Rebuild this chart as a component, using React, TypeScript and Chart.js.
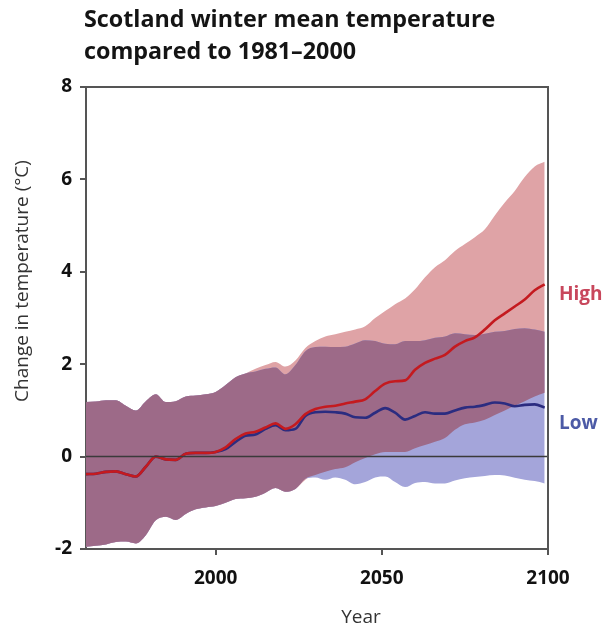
import React, { useEffect, useRef } from 'react';
import { Chart, registerables } from 'chart.js';

Chart.register(...registerables);

const years = [1961, 1964, 1967, 1970, 1973, 1976, 1979, 1982, 1985, 1988, 1991, 1994, 1997, 2000, 2003, 2006, 2009, 2012, 2015, 2018, 2021, 2024, 2027, 2030, 2033, 2036, 2039, 2042, 2045, 2048, 2051, 2054, 2057, 2060, 2063, 2066, 2069, 2072, 2075, 2078, 2081, 2084, 2087, 2090, 2093, 2096, 2099];

const highUpper = [1.18, 1.19, 1.22, 1.22, 1.1, 1.0, 1.2, 1.35, 1.18, 1.2, 1.3, 1.32, 1.35, 1.4, 1.55, 1.72, 1.8, 1.9, 1.98, 2.05, 1.95, 2.08, 2.35, 2.5, 2.6, 2.65, 2.7, 2.75, 2.82, 3.0, 3.15, 3.3, 3.42, 3.62, 3.88, 4.1, 4.25, 4.45, 4.6, 4.75, 4.92, 5.22, 5.5, 5.75, 6.05, 6.28, 6.38];
const highLower = [-1.95, -1.93, -1.9, -1.85, -1.84, -1.88, -1.7, -1.38, -1.3, -1.37, -1.24, -1.14, -1.1, -1.07, -1.0, -0.92, -0.9, -0.87, -0.78, -0.68, -0.76, -0.7, -0.5, -0.4, -0.33, -0.27, -0.23, -0.12, -0.03, 0.05, 0.1, 0.1, 0.1, 0.18, 0.25, 0.32, 0.4, 0.58, 0.7, 0.74, 0.8, 0.9, 1.0, 1.1, 1.2, 1.3, 1.38];
const highMean = [-0.38, -0.37, -0.33, -0.32, -0.38, -0.43, -0.22, 0.0, -0.06, -0.07, 0.06, 0.08, 0.08, 0.1, 0.2, 0.38, 0.5, 0.54, 0.63, 0.72, 0.6, 0.7, 0.92, 1.03, 1.08, 1.1, 1.15, 1.19, 1.24, 1.42, 1.58, 1.63, 1.65, 1.88, 2.03, 2.12, 2.2, 2.38, 2.5, 2.58, 2.75, 2.95, 3.1, 3.25, 3.4, 3.6, 3.73];

const lowUpper = [1.18, 1.19, 1.22, 1.22, 1.1, 1.0, 1.2, 1.35, 1.18, 1.2, 1.3, 1.32, 1.35, 1.4, 1.55, 1.72, 1.8, 1.84, 1.9, 1.93, 1.78, 1.98, 2.28, 2.37, 2.38, 2.37, 2.38, 2.45, 2.52, 2.5, 2.44, 2.43, 2.5, 2.5, 2.52, 2.57, 2.6, 2.67, 2.65, 2.63, 2.66, 2.7, 2.72, 2.76, 2.78, 2.75, 2.7];
const lowLower = [-1.95, -1.93, -1.9, -1.85, -1.84, -1.88, -1.7, -1.38, -1.3, -1.37, -1.24, -1.14, -1.1, -1.07, -1.0, -0.92, -0.9, -0.87, -0.78, -0.68, -0.76, -0.7, -0.48, -0.45, -0.5, -0.45, -0.5, -0.6, -0.55, -0.45, -0.43, -0.55, -0.66, -0.57, -0.55, -0.58, -0.58, -0.52, -0.47, -0.44, -0.42, -0.4, -0.41, -0.46, -0.5, -0.53, -0.58];
const lowMean = [-0.38, -0.37, -0.33, -0.32, -0.38, -0.43, -0.22, 0.0, -0.06, -0.07, 0.06, 0.08, 0.08, 0.1, 0.16, 0.32, 0.45, 0.48, 0.6, 0.68, 0.57, 0.6, 0.88, 0.96, 0.97, 0.96, 0.93, 0.85, 0.84, 0.95, 1.05, 0.95, 0.8, 0.88, 0.96, 0.93, 0.93, 1.0, 1.06, 1.08, 1.12, 1.17, 1.15, 1.09, 1.12, 1.13, 1.06];

const xTickValues = [2000, 2050, 2100];
const yTickValues = [-2, 0, 2, 4, 6, 8];

const titleLines = ['Scotland winter mean temperature', 'compared to 1981\u20132000'];
const yTitle = 'Change in temperature (\u00B0C)';
const xTitle = 'Year';
const highLabel = 'High';
const lowLabel = 'Low';

const FONT = '"Open Sans", "Noto Sans", sans-serif';

const COLORS = {
  pink: '#dfa3a6',
  blue: '#a4a5da',
  purple: '#9d6a88',
  red: '#c41a1f',
  navy: '#2b2c80',
  axis: '#555555',
  highText: '#c8475c',
  lowText: '#4c5aa6',
};

const pts = (arr: number[]) => years.map((x, i) => ({ x, y: arr[i] }));

export default function App() {
  const ref = useRef<HTMLCanvasElement | null>(null);

  useEffect(() => {
    const canvas = ref.current;
    if (!canvas) return;

    const overlapUpper = highUpper.map((v, i) => Math.min(v, lowUpper[i]));
    const overlapLower = highLower.map((v, i) => Math.max(v, lowLower[i]));

    const hidden = { borderWidth: 0, pointRadius: 0, fill: false as const };

    const decor = {
      id: 'decor',
      afterDatasetsDraw(chart: any) {
        const { ctx, chartArea, scales } = chart;
        const y0 = scales.y.getPixelForValue(0);
        ctx.save();
        ctx.strokeStyle = '#3a3a3a';
        ctx.lineWidth = 1.5;
        ctx.beginPath();
        ctx.moveTo(chartArea.left, y0);
        ctx.lineTo(chartArea.right, y0);
        ctx.stroke();
        ctx.restore();
      },
      afterDraw(chart: any) {
        const { ctx, chartArea } = chart;
        ctx.save();
        ctx.strokeStyle = COLORS.axis;
        ctx.lineWidth = 2;
        ctx.beginPath();
        ctx.moveTo(chartArea.left - 1, chartArea.top);
        ctx.lineTo(chartArea.right, chartArea.top);
        ctx.lineTo(chartArea.right, chartArea.bottom);
        ctx.stroke();

        ctx.fillStyle = '#141414';
        ctx.font = `bold 23.3px ${FONT}`;
        ctx.textAlign = 'left';
        ctx.textBaseline = 'alphabetic';
        ctx.fillText(titleLines[0], 84, 27);
        ctx.fillText(titleLines[1], 84, 59);

        ctx.fillStyle = '#333333';
        ctx.font = `19px ${FONT}`;
        ctx.textAlign = 'center';
        ctx.textBaseline = 'middle';
        ctx.fillText(xTitle, 361, 618);

        ctx.save();
        ctx.translate(23, 281);
        ctx.rotate(-Math.PI / 2);
        ctx.fillText(yTitle, 0, 0);
        ctx.restore();

        ctx.font = `bold 19px ${FONT}`;
        ctx.textAlign = 'left';
        ctx.fillStyle = COLORS.highText;
        ctx.fillText(highLabel, 559, 295);
        ctx.fillStyle = COLORS.lowText;
        ctx.fillText(lowLabel, 559, 424);
        ctx.restore();
      },
    };

    const chart = new Chart(canvas, {
      type: 'line',
      data: {
        datasets: [
          { label: 'highLower', data: pts(highLower), ...hidden, order: 10 },
          { label: 'highUpper', data: pts(highUpper), borderWidth: 0, pointRadius: 0, backgroundColor: COLORS.pink, fill: { target: 0 }, order: 9 },
          { label: 'lowLower', data: pts(lowLower), ...hidden, order: 8 },
          { label: 'lowUpper', data: pts(lowUpper), borderWidth: 0, pointRadius: 0, backgroundColor: COLORS.blue, fill: { target: 2 }, order: 7 },
          { label: 'overlapLower', data: pts(overlapLower), ...hidden, order: 6 },
          { label: 'overlapUpper', data: pts(overlapUpper), borderWidth: 0, pointRadius: 0, backgroundColor: COLORS.purple, fill: { target: 4 }, order: 5 },
          { label: 'Low', data: pts(lowMean), borderColor: COLORS.navy, borderWidth: 2.6, pointRadius: 0, fill: false, order: 2 },
          { label: 'High', data: pts(highMean), borderColor: COLORS.red, borderWidth: 2.6, pointRadius: 0, fill: false, order: 1 },
        ],
      },
      options: {
        animation: false,
        responsive: false,
        devicePixelRatio: 1,
        elements: { line: { tension: 0.4, cubicInterpolationMode: 'monotone' } },
        layout: { padding: { top: 87, right: 57, left: 0, bottom: 0 } },
        plugins: {
          legend: { display: false },
          tooltip: { enabled: false },
          title: { display: false },
          filler: { drawTime: 'beforeDatasetDraw' },
        },
        scales: {
          x: {
            type: 'linear',
            min: 1961,
            max: 2100,
            afterBuildTicks: (scale: any) => {
              scale.ticks = xTickValues.map((v) => ({ value: v }));
            },
            afterFit: (scale: any) => {
              scale.height = 82;
            },
            grid: { display: true, drawOnChartArea: false, drawTicks: true, tickLength: 6, color: COLORS.axis, lineWidth: 2 },
            border: { display: true, color: COLORS.axis, width: 2 },
            ticks: {
              color: '#111111',
              font: { family: FONT, size: 19, weight: 'bold' },
              padding: 12,
              maxRotation: 0,
              autoSkip: false,
              callback: (v: any) => String(v),
            },
          },
          y: {
            type: 'linear',
            min: -2,
            max: 8,
            afterBuildTicks: (scale: any) => {
              scale.ticks = yTickValues.map((v) => ({ value: v }));
            },
            afterFit: (scale: any) => {
              scale.width = 86;
            },
            grid: { display: true, drawOnChartArea: false, drawTicks: true, tickLength: 6, color: COLORS.axis, lineWidth: 2 },
            border: { display: true, color: COLORS.axis, width: 2 },
            ticks: { color: '#111111', font: { family: FONT, size: 19, weight: 'bold' }, padding: 8, callback: (v: any) => String(v) },
          },
        },
      },
      plugins: [decor],
    } as any);

    return () => chart.destroy();
  }, []);

  return (
    <canvas
      ref={ref}
      width={605}
      height={631}
      style={{ position: 'fixed', left: 0, top: 0, width: 605, height: 631, background: '#ffffff' }}
    />
  );
}
